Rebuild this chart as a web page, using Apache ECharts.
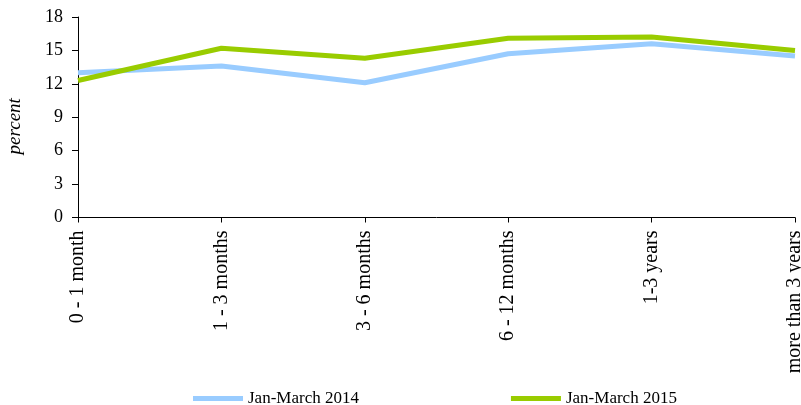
<!DOCTYPE html>
<html>
<head>
<meta charset="utf-8">
<script src="https://cdn.jsdelivr.net/npm/echarts@6/dist/echarts.min.js"></script>
<style>html,body{margin:0;padding:0;background:#fff;}#c{width:801px;height:405px;}</style>
</head>
<body>
<div id="c"></div>
<script>
const categories = ["0 - 1 month", "1 - 3 months", "3 - 6 months", "6 - 12 months", "1-3 years", "more than 3 years"];
const series2014 = [13.0, 13.6, 12.1, 14.7, 15.6, 14.5];
const series2015 = [12.3, 15.2, 14.3, 16.1, 16.2, 15.0];
const yTicks = { min: 0, max: 18, interval: 3 };
const seriesNames = ["Jan-March 2014", "Jan-March 2015"];

const FONT = "Liberation Serif";
const chart = echarts.init(document.getElementById('c'), null, { renderer: 'canvas' });
chart.setOption({
  animation: false,
  backgroundColor: '#ffffff',
  textStyle: { fontFamily: FONT, color: '#000' },
  grid: { left: 78, right: 6, top: 17, bottom: 405 - 217.5, containLabel: false, outerBoundsMode: 'none' },
  legend: {
    left: 193, top: 390, padding: 0,
    itemWidth: 50, itemHeight: 5, itemGap: 152,
    icon: 'rect',
    textStyle: { fontFamily: FONT, fontSize: 17, color: '#000' },
    data: seriesNames
  },
  xAxis: {
    type: 'category',
    data: categories,
    boundaryGap: false,
    axisLine: { lineStyle: { color: '#000', width: 1 } },
    axisTick: { show: true, alignWithLabel: true, length: 5, lineStyle: { color: '#000' } },
    axisLabel: { rotate: 90, interval: 0, margin: 13, fontFamily: FONT, fontSize: 20, color: '#000' },
    splitLine: { show: false }
  },
  yAxis: {
    type: 'value',
    min: yTicks.min, max: yTicks.max, interval: yTicks.interval,
    name: 'percent',
    nameLocation: 'middle',
    nameGap: 54,
    nameRotate: 90,
    nameTextStyle: { fontFamily: FONT, fontSize: 19, fontStyle: 'italic', color: '#000', padding: [0, 18, 0, 0] },
    axisLine: { show: true, lineStyle: { color: '#000', width: 1 } },
    axisTick: { show: true, length: 6, lineStyle: { color: '#000' } },
    axisLabel: { margin: 15, fontFamily: FONT, fontSize: 18, color: '#000' },
    splitLine: { show: false }
  },
  series: [
    { name: seriesNames[0], type: 'line', data: series2014, showSymbol: false, symbol: 'none',
      lineStyle: { color: '#99CCFF', width: 5 }, itemStyle: { color: '#99CCFF' } },
    { name: seriesNames[1], type: 'line', data: series2015, showSymbol: false, symbol: 'none',
      lineStyle: { color: '#99CC00', width: 5 }, itemStyle: { color: '#99CC00' } }
  ]
});
</script>
</body>
</html>
